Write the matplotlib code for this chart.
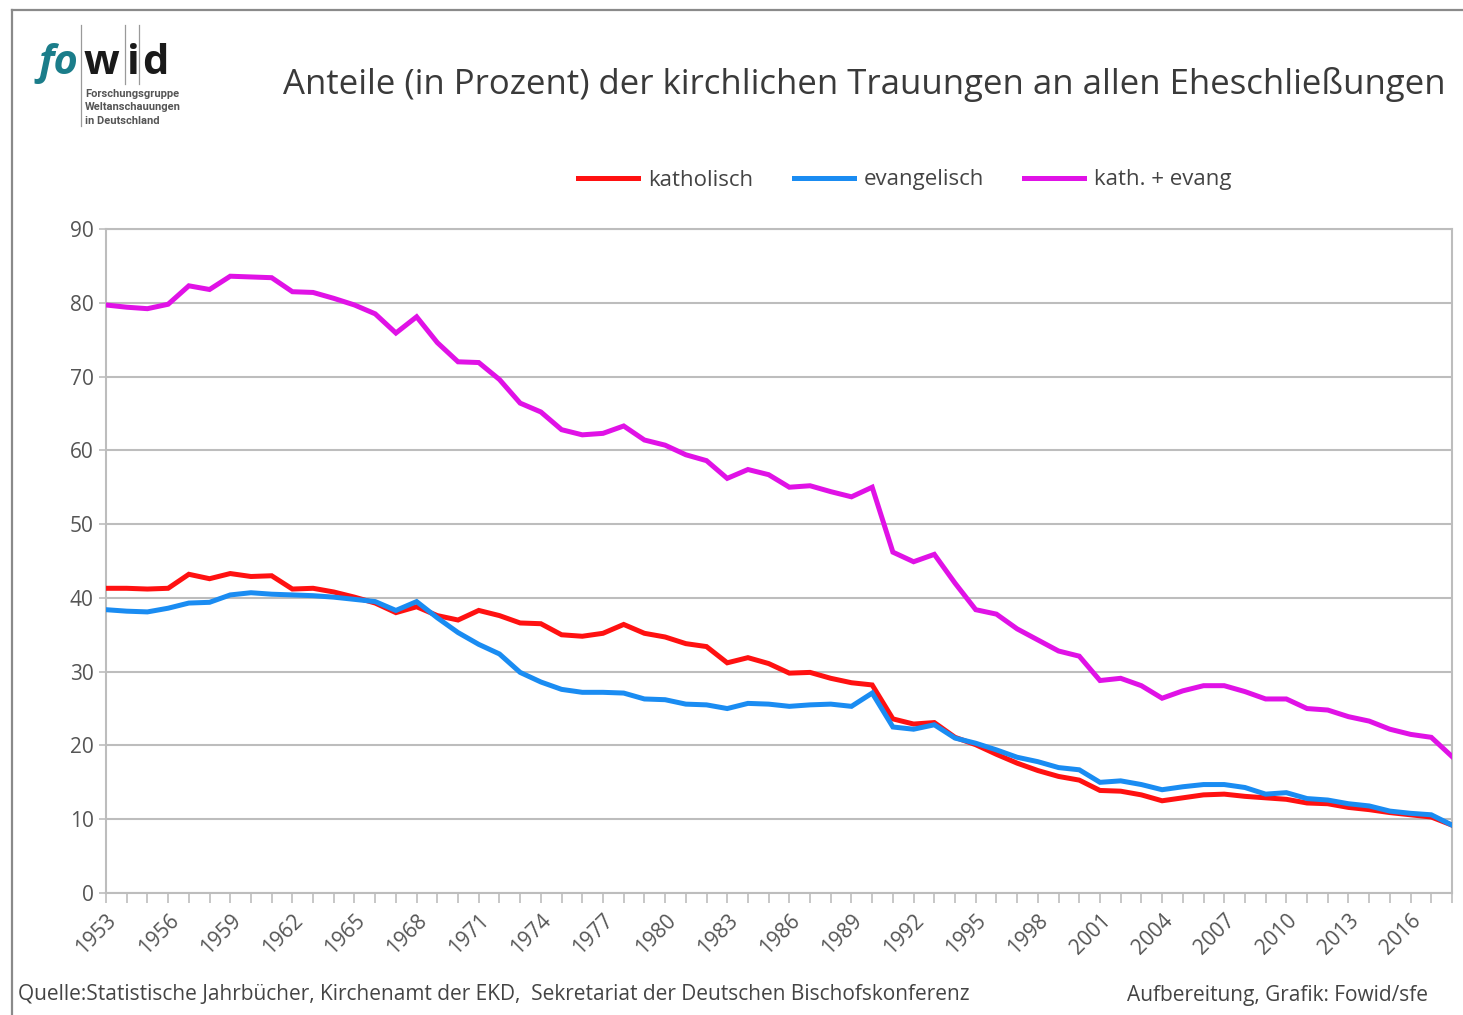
import numpy as np
import matplotlib
matplotlib.use("Agg")
import matplotlib.pyplot as plt
from matplotlib.lines import Line2D
from matplotlib.ticker import MultipleLocator

plt.rcParams['font.family'] = ['Open Sans', 'DejaVu Sans']

# Anteile in Prozent, 1953-2018
jahre = np.arange(1953, 2019)

katholisch = [
    41.3, 41.3, 41.2, 41.3, 43.2, 42.6, 43.3, 42.9, 43.0, 41.2,
    41.3, 40.8, 40.1, 39.3, 38.0, 38.8, 37.6, 37.0, 38.3, 37.6,
    36.6, 36.5, 35.0, 34.8, 35.2, 36.4, 35.2, 34.7, 33.8, 33.4,
    31.2, 31.9, 31.1, 29.8, 29.9, 29.1, 28.5, 28.2, 23.6, 22.9,
    23.1, 21.1, 20.1, 18.8, 17.6, 16.6, 15.8, 15.3, 13.9, 13.8,
    13.3, 12.5, 12.9, 13.3, 13.4, 13.1, 12.9, 12.7, 12.2, 12.1,
    11.6, 11.3, 10.9, 10.6, 10.3, 9.2,
]
evangelisch = [
    38.4, 38.2, 38.1, 38.6, 39.3, 39.4, 40.4, 40.7, 40.5, 40.4,
    40.3, 40.1, 39.8, 39.5, 38.3, 39.5, 37.3, 35.3, 33.7, 32.4,
    29.9, 28.6, 27.6, 27.2, 27.2, 27.1, 26.3, 26.2, 25.6, 25.5,
    25.0, 25.7, 25.6, 25.3, 25.5, 25.6, 25.3, 27.1, 22.5, 22.2,
    22.8, 21.0, 20.3, 19.4, 18.4, 17.8, 17.0, 16.7, 15.0, 15.2,
    14.7, 14.0, 14.4, 14.7, 14.7, 14.3, 13.4, 13.6, 12.8, 12.6,
    12.1, 11.8, 11.1, 10.8, 10.6, 9.2,
]
kath_evang = [
    79.7, 79.4, 79.2, 79.8, 82.3, 81.8, 83.6, 83.5, 83.4, 81.5,
    81.4, 80.6, 79.7, 78.5, 75.9, 78.1, 74.6, 72.0, 71.9, 69.6,
    66.4, 65.2, 62.8, 62.1, 62.3, 63.3, 61.4, 60.7, 59.4, 58.6,
    56.2, 57.4, 56.7, 55.0, 55.2, 54.4, 53.7, 55.0, 46.2, 44.9,
    45.9, 42.0, 38.4, 37.8, 35.8, 34.3, 32.8, 32.1, 28.8, 29.1,
    28.1, 26.4, 27.4, 28.1, 28.1, 27.3, 26.3, 26.3, 25.0, 24.8,
    23.9, 23.3, 22.2, 21.5, 21.1, 18.5,
]

reihen = ["katholisch", "evangelisch", "kath. + evang"]
farben = ["#ff1111", "#1a8cf2", "#e012e6"]

W, H = 1463, 1015
fig = plt.figure(figsize=(W / 100, H / 100), dpi=100)
fig.patch.set_facecolor("white")


def px(x, y):
    return x / W, 1 - y / H


# Rahmen oben und links
fig.add_artist(Line2D([12 / W, 1.0], [1 - 10 / H] * 2, color="#8a8a8a", lw=1.6,
                      transform=fig.transFigure))
fig.add_artist(Line2D([12 / W] * 2, [0.0, 1 - 10 / H], color="#8a8a8a", lw=1.6,
                      transform=fig.transFigure))

ax = fig.add_axes([106 / W, (H - 893) / H, 1346 / W, 664 / H])
for name, werte, farbe in zip(reihen, [katholisch, evangelisch, kath_evang], farben):
    ax.plot(jahre, werte, color=farbe, lw=3.6, label=name, solid_joinstyle="miter",
            zorder=3)

ax.set_xlim(1953, 2018)
ax.set_ylim(0, 90)
ax.yaxis.set_major_locator(MultipleLocator(10))
ax.set_xticks(np.arange(1953, 2017, 3))
ax.xaxis.set_minor_locator(MultipleLocator(1))
ax.grid(axis="y", color="#bdbdbd", lw=1.5, zorder=0)
for s in ax.spines.values():
    s.set_color("#bdbdbd")
    s.set_linewidth(1.5)

ax.tick_params(axis="y", length=5, width=1.2, color="#bdbdbd", labelsize=15,
               labelcolor="#555555", pad=4)
ax.tick_params(axis="x", which="both", length=7, width=1.2, color="#bdbdbd",
               labelsize=15, labelcolor="#555555", pad=5)
for lab in ax.get_xticklabels():
    lab.set_rotation(45)
    lab.set_ha("right")
    lab.set_va("top")
    lab.set_rotation_mode("anchor")

# Legende
fig.legend(*ax.get_legend_handles_labels(), loc="center", bbox_to_anchor=px(905, 180),
           ncol=3, frameon=False, fontsize=16, handlelength=2.7, handletextpad=0.45,
           columnspacing=1.8, labelcolor="#444444")

# Titel
fig.text(*px(283, 85), "Anteile (in Prozent) der kirchlichen Trauungen an allen Eheschließungen",
         fontsize=25, color="#3a3a3a", ha="left", va="center")

# Logo
fig.text(*px(38, 63), "fo", fontsize=30, fontweight="bold", style="italic",
         color="#1b7d8a", ha="left", va="center")
fig.text(*px(84, 63), "w", fontsize=30, fontweight="bold", color="#1a1a1a",
         ha="left", va="center")
fig.text(*px(127, 63), "i", fontsize=30, fontweight="bold", color="#1a1a1a",
         ha="left", va="center")
fig.text(*px(142, 63), "d", fontsize=30, fontweight="bold", color="#1a1a1a",
         ha="left", va="center")
for xl, y1 in [(81, 126), (125, 84), (139, 84)]:
    fig.add_artist(Line2D([xl / W] * 2, [1 - 25 / H, 1 - y1 / H], color="#9a9a9a",
                          lw=0.9, transform=fig.transFigure))
for i, zeile in enumerate(["Forschungsgruppe", "Weltanschauungen", "in Deutschland"]):
    fig.text(*px(85, 94 + i * 13.5), zeile, fontsize=8, fontweight="bold",
             color="#555555", ha="left", va="center", family="Roboto")

# Quellen
fig.text(*px(18, 995), "Quelle:Statistische Jahrbücher, Kirchenamt der EKD,  "
         "Sekretariat der Deutschen Bischofskonferenz",
         fontsize=15, color="#444444", ha="left", va="center")
fig.text(*px(1428, 995), "Aufbereitung, Grafik: Fowid/sfe",
         fontsize=15, color="#444444", ha="right", va="center")

fig.savefig("out.png", dpi=100, facecolor="white")
